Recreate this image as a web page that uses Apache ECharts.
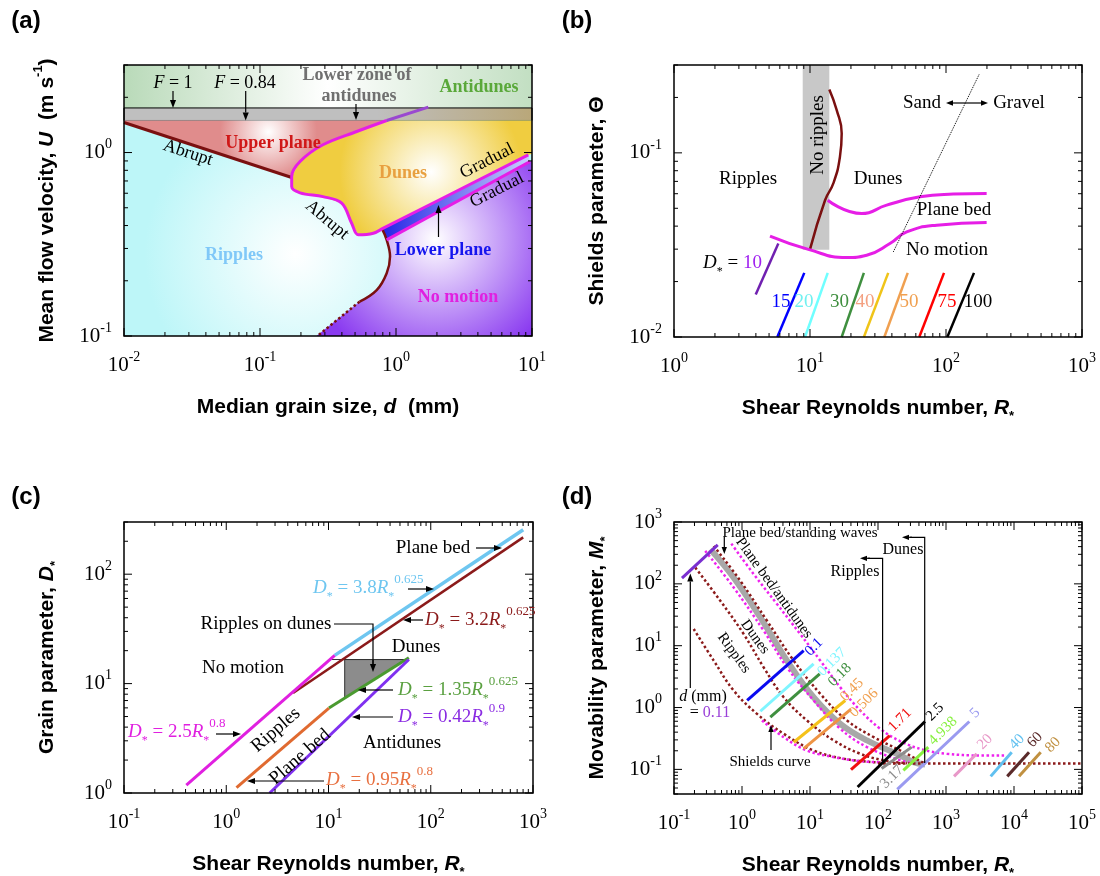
<!DOCTYPE html>
<html>
<head>
<meta charset="utf-8">
<title>Bedform diagrams</title>
<script src="https://cdn.jsdelivr.net/npm/echarts@6.0.0/dist/echarts.min.js"></script>
<style>
  html, body { margin: 0; padding: 0; background: #fff; }
  #chart { width: 1100px; height: 876px; }
</style>
</head>
<body>
<div id="chart"></div>
<script>
// axis ranges
const aX = [0.01, 10], aY = [0.1, 3];
const bX = [1, 1000], bY = [0.01, 0.3];
const cX = [0.1, 1000], cY = [1, 300];
const dX = [0.1, 100000], dY = [0.04, 1000];

// (a) d (mm) vs U (m/s)
const aAntidunes = [[0.01,1.75],[10,1.75],[10,3],[0.01,3]];
const aBand = [[0.01,1.495],[10,1.495],[10,1.75],[0.01,1.75]];
const aRipples = [[0.01,0.1],[10,0.1],[10,1.495],[0.01,1.495]];
const aUpperPlane = [[0.01,1.495],[0.854,1.495],[0.514,1.302],[0.290,1.102],[0.197,0.893],[0.171,0.740],[0.171,0.731],[0.01,1.458]];
const aDunesEdge = [[0.854,1.495],[0.514,1.302],[0.290,1.102],[0.197,0.893],[0.171,0.740],[0.171,0.652],[0.197,0.603],[0.290,0.575],[0.399,0.530],[0.472,0.412],[0.528,0.356],[0.681,0.363],[0.807,0.387],[9.39,0.971]];
const aDunesClose = [[10,0.985],[10,1.495]];
const aAntiEdge = [[1.728,1.769],[0.854,1.495]];
const aLowerPlane = [[0.785,0.387],[9.39,0.971],[9.67,0.893],[0.854,0.334]];
const aLowerEdge = [[0.854,0.334],[9.67,0.893]];
const aRippleEdge = [[0.785,0.387],[0.854,0.334],[0.904,0.271],[0.854,0.220],[0.721,0.178],[0.540,0.154]];
const aRippleDotted = [[0.540,0.154],[0.269,0.101]];
const aNoMotion = [[0.26,0.1],[0.540,0.154],[0.721,0.178],[0.854,0.220],[0.904,0.271],[0.854,0.334],[9.67,0.893],[10,0.91],[10,0.1]];
const aAbrupt = [[0.01,1.458],[0.171,0.731]];

// (b) R* vs Shields parameter
const bNoRipples = [[8.84,0.0298],[13.87,0.0298],[13.87,0.3],[8.84,0.3]];
const bRippleEdge = [[13.87,0.221],[15.72,0.1706],[17.1,0.1274],[16.6,0.0951],[14.84,0.0682],[12.9,0.0553],[10.0,0.0299]];
const bPlaneBedEdge = [[13.5,0.0553],[24.0,0.0468],[36.6,0.052],[64.4,0.0577],[113,0.0597],[199,0.0602]];
const bMotionEdge = [[5.08,0.0353],[9.72,0.0299],[18.6,0.027],[26.1,0.0278],[38.7,0.0322],[51.4,0.0372],[85.4,0.0405],[199,0.0419]];
const bSandGravel = [[41.0,0.029],[175.8,0.268]];
const bDstar = ['10','15','20','30','40','50','75','100'];
const bDLow = [[3.99,0.017],[5.75,0.01],[9.19,0.01],[17.1,0.01],[24.9,0.01],[35.2,0.01],[63.6,0.01],[102.3,0.01]];
const bDHigh = [[5.85,0.0322],[9.08,0.0223],[13.5,0.0223],[24.9,0.0223],[37.6,0.0223],[52.3,0.0223],[96.7,0.0223],[160.6,0.0223]];
const bDColors = ['#7020b0','#0000ff','#70ffff','#3f8f3f','#f0c419','#f0a050','#ff0000','#000000'];
const bLabelColors = ['#a020f0','#0000ff','#70f0f0','#3f8f3f','#f4a080','#f0a050','#ff0000','#000000'];
const bLabelX = [0, 781, 804, 839.5, 865, 909, 947, 978];

// (c) R* vs D*
const cBlue = [[11.5,18.1],[802,255]];
const cBrown = [[4.5,8.22],[802,217]];
const cMagenta = [[0.407,1.18],[11.5,18.1]];
const cOrange = [[1.26,1.12],[10.1,5.98]];
const cGreen = [[10.1,5.98],[61.1,17.2]];
const cPurple = [[2.66,1.0],[61.1,16.6]];
const cRippleDunes = [[14.4,16.6],[55.8,16.6],[14.4,7.36]];
const cTop = [[10.7,16.6],[55.8,16.6]];

// (d) R* vs M*
const dD011 = [[0.131,124],[0.440,426]];
const dPlaneAnti = [[0.697,447],[1.49,143],[3.27,47.1],[7.19,15.4],[14.2,5.73],[27.9,2.12],[54.9,0.895],[108,0.453],[213,0.285],[463,0.208],[1023,0.179],[3162,0.168],[7810,0.168]];
const dGrayBand = [[0.342,363],[0.755,126],[1.86,28.6],[4.59,5.73],[11.3,1.47],[27.9,0.546],[68.9,0.294],[213,0.168],[330,0.131],[491,0.120]];
const dBandBrown = [[0.384,410],[0.944,112],[2.33,25.3],[5.76,5.73],[14.2,1.66],[35.0,0.617],[86.5,0.332],[213,0.202],[491,0.124]];
const dBandMagenta = [[0.288,341],[0.755,87.1],[2.08,17.5],[4.59,4.47],[11.3,1.30],[27.9,0.453],[68.9,0.229],[213,0.140],[330,0.124]];
const dDunes = [[0.206,183],[0.480,53.2],[1.06,15.4],[2.08,4.47],[4.10,1.47],[9.03,0.617],[22.3,0.294],[54.9,0.179],[121,0.140],[267,0.126]];
const dRipples = [[0.195,18.6],[0.384,5.73],[0.755,1.88],[1.66,0.791],[4.10,0.377],[11.3,0.202],[31.3,0.149],[86.5,0.131],[213,0.126]];
const dShields = [[1.97,0.617],[4.10,0.332],[9.03,0.202],[22.3,0.158],[54.9,0.136],[121,0.130]];
const dFlat = [[100,0.124],[100000,0.124]];
const dSizes = ['0.1','0.137','0.18','0.45','0.506','1.71','2.5','3.17','4.938','5','20','40','60','80'];
const dLo = [[1.19,1.30],[1.86,0.871],[2.61,0.698],[5.76,0.275],[8.07,0.216],[40.1,0.0989],[50.2,0.0519],[113,0.103],[236,0.0964],[192,0.0475],[1312,0.0771],[4540,0.0771],[7960,0.0771],[11860,0.0771]];
const dHi = [[8.07,8.30],[11.3,5.07],[13.9,3.50],[33.0,1.30],[40.1,0.940],[149,0.353],[491,0.594],[313,0.229],[549,0.229],[2203,0.594],[2825,0.179],[9250,0.190],[16630,0.190],[24710,0.190]];
const dColors = ['#0a0af0','#7ff5ff','#3f8f3f','#f5c21a','#ee9444','#f01010','#000000','#8c8c8c','#88f040','#9a9af0','#e898c8','#60c0f0','#5a2a2a','#c09040'];
const dLabelColors = ['#0a0af0','#7ff5ff','#3f8f3f','#f0a050','#f0a050','#f01010','#000000','#8c8c8c','#88f040','#9a9af0','#e898c8','#60c0f0','#5a2a2a','#c09040'];
const dLabelPos = [[814,647],[832,662],[840,675],[852,690],[864,703],[900,720],[935,712],[892,777],[943,731],[975,713],[985,742],[1017,742],[1035,740],[1053,745]];

const SERIF = '"Liberation Serif","Times New Roman",serif';
const SANS = '"Liberation Sans",Arial,sans-serif';
const deg = Math.PI / 180;
const G = echarts.graphic;

const chart = echarts.init(document.getElementById('chart'));

function powLabel(v) {
  const l = Math.log10(v), e = Math.round(l);
  if (Math.abs(l - e) > 1e-6) return '';
  return '{b|10}{s|' + e + '}';
}
const labelRich = {
  b: {fontFamily: SERIF, fontSize: 21, color: '#000', lineHeight: 30},
  s: {fontFamily: SERIF, fontSize: 14, color: '#000', verticalAlign: 'top', lineHeight: 14}
};
const titleRich = {
  t: {fontFamily: SANS, fontWeight: 'bold', fontSize: 21, color: '#000', lineHeight: 30},
  i: {fontFamily: SANS, fontWeight: 'bold', fontStyle: 'italic', fontSize: 21, color: '#000', lineHeight: 30},
  sp: {fontFamily: SANS, fontWeight: 'bold', fontSize: 13, color: '#000', verticalAlign: 'top', lineHeight: 14},
  sb: {fontFamily: SANS, fontWeight: 'bold', fontSize: 13, color: '#000', verticalAlign: 'bottom', lineHeight: 14}
};

function axis(gi, r, name, isY) {
  return {
    gridIndex: gi, type: 'log', logBase: 10, min: r[0], max: r[1],
    axisLine: {show: false}, axisTick: {show: false}, splitLine: {show: false},
    axisLabel: {formatter: powLabel, rich: labelRich, margin: isY ? 12 : 14, showMinLabel: true, showMaxLabel: true},
    name: name, nameLocation: 'middle', nameGap: isY ? 62 : 56, nameMoveOverlap: false,
    nameTextStyle: {rich: titleRich}
  };
}

function logTicks(r) {
  const out = [];
  const k0 = Math.floor(Math.log10(r[0]) - 1e-9), k1 = Math.ceil(Math.log10(r[1]));
  for (let k = k0; k <= k1; k++) {
    for (let m = 1; m <= 9; m++) {
      const v = m * Math.pow(10, k);
      if (v >= r[0] * 0.999 && v <= r[1] * 1.001) out.push([v, m === 1]);
    }
  }
  return out;
}

// box + major/minor ticks on all four sides
function frame(gi, xr, yr) {
  return {
    type: 'custom', xAxisIndex: gi, yAxisIndex: gi, silent: true, z: 20,
    data: [[xr[0], yr[0]]],
    renderItem: function (params, api) {
      const cs = params.coordSys;
      const ch = [];
      const st = {stroke: '#000', lineWidth: 1};
      const seg = (x1, y1, x2, y2) => ch.push({type: 'line', shape: {x1, y1, x2, y2}, style: st});
      logTicks(xr).forEach(([v, maj]) => {
        const x = api.coord([v, yr[0]])[0], L = maj ? 8 : 4;
        seg(x, cs.y + cs.height, x, cs.y + cs.height - L);
        seg(x, cs.y, x, cs.y + L);
      });
      logTicks(yr).forEach(([v, maj]) => {
        const y = api.coord([xr[0], v])[1], L = maj ? 8 : 4;
        seg(cs.x, y, cs.x + L, y);
        seg(cs.x + cs.width, y, cs.x + cs.width - L, y);
      });
      ch.push({type: 'rect', shape: {x: cs.x, y: cs.y, width: cs.width, height: cs.height},
        style: {fill: null, stroke: '#000', lineWidth: 1.5}});
      return {type: 'group', children: ch};
    }
  };
}

// filled areas
function regions(gi, list) {
  return {
    type: 'custom', xAxisIndex: gi, yAxisIndex: gi, silent: true, z: 1,
    data: list.map(r => r.pts[0]),
    renderItem: function (params, api) {
      const r = list[params.dataIndex];
      return {type: 'polygon', shape: {points: r.pts.map(p => api.coord(p))},
        style: {fill: r.fill, stroke: r.stroke || null, lineWidth: r.lw || 0}};
    }
  };
}

function line(gi, data, color, width, dotted, smooth) {
  return {
    type: 'line', xAxisIndex: gi, yAxisIndex: gi, data: data, symbol: 'none', silent: true, z: 3,
    smooth: smooth || false,
    lineStyle: {color: color, width: width, type: dotted ? 'dotted' : 'solid'}
  };
}

function richStyle(size, color, pc) {
  const sub = Math.round(size * 0.62), sup = Math.round(size * 0.66);
  return {
    t: {fontFamily: SERIF, fontSize: size, fill: color, lineHeight: size + 10},
    i: {fontFamily: SERIF, fontSize: size, fill: color, fontStyle: 'italic', lineHeight: size + 10},
    k: {fontFamily: SERIF, fontSize: size, fill: '#000', lineHeight: size + 10},
    ki: {fontFamily: SERIF, fontSize: size, fill: '#000', fontStyle: 'italic', lineHeight: size + 10},
    p: {fontFamily: SERIF, fontSize: size, fill: pc || color, lineHeight: size + 10},
    sb: {fontFamily: SERIF, fontSize: sub, fill: color, verticalAlign: 'bottom', lineHeight: sub + 2},
    ksb: {fontFamily: SERIF, fontSize: sub, fill: '#000', verticalAlign: 'bottom', lineHeight: sub + 2},
    sp: {fontFamily: SERIF, fontSize: sup, fill: color, verticalAlign: 'top', lineHeight: sup + 1}
  };
}
function txt(x, y, text, size, color, o) {
  o = o || {};
  return {
    type: 'text', x: x, y: y, rotation: (o.rot || 0) * deg, z: 100,
    style: {text: text, fontFamily: o.sans ? SANS : SERIF, fontSize: size, fill: color,
      fontWeight: o.bold ? 'bold' : 'normal', align: o.align || 'center', verticalAlign: 'middle',
      rich: richStyle(size, color, o.pc)}
  };
}
function arrow(x1, y1, x2, y2, color, h) {
  color = color || '#000'; h = h || 8;
  const a = Math.atan2(y2 - y1, x2 - x1), w = h * 0.38;
  const bx = x2 - h * Math.cos(a), by = y2 - h * Math.sin(a);
  return {type: 'group', z: 100, children: [
    {type: 'line', z: 100, shape: {x1, y1, x2: bx, y2: by}, style: {stroke: color, lineWidth: 1.2}},
    {type: 'polygon', z: 100, shape: {points: [[x2, y2], [bx + w * Math.sin(a), by - w * Math.cos(a)], [bx - w * Math.sin(a), by + w * Math.cos(a)]]},
      style: {fill: color}}
  ]};
}
function poly(points) {
  return {type: 'polyline', z: 100, shape: {points: points}, style: {stroke: '#000', lineWidth: 1.2, fill: null}};
}

const lin = (stops) => new G.LinearGradient(0, 0, 1, 0, stops.map(s => ({offset: s[0], color: s[1]})));
const rad = (x, y, r, c0, c1) => new G.RadialGradient(x, y, r, [{offset: 0, color: c0}, {offset: 1, color: c1}]);

const series = [
  regions(0, [
    {pts: aAntidunes, fill: lin([[0, '#b9dab9'], [0.5, '#ffffff'], [1, '#c2dfc2']])},
    {pts: aBand, fill: lin([[0, '#bfbfbf'], [0.62, '#bfbfbf'], [1, '#b9a779']]), stroke: '#000', lw: 1},
    {pts: aRipples, fill: rad(0.42, 0.62, 0.7, '#ffffff', '#bdf6f8')},
    {pts: aUpperPlane, fill: rad(0.55, 0.2, 0.85, '#ffffff', '#e08c8c')},
    {pts: aDunesEdge.concat(aDunesClose), fill: rad(0.58, 0.45, 0.8, '#ffffff', '#f0cd40')},
    {pts: aNoMotion, fill: rad(0.55, 0.45, 0.75, '#ffffff', '#8a3af0')},
    {pts: aLowerPlane, fill: lin([[0, '#2424e6'], [1, '#c8d0ff']])}
  ]),
  line(0, aAbrupt, '#7a1010', 3),
  line(0, aRippleEdge, '#7a1010', 2.5, false, 0.4),
  line(0, aRippleDotted, '#7a1010', 2.5, true),
  line(0, aDunesEdge, '#e61ee6', 3, false, 0.35),
  line(0, aAntiEdge, '#9a48d0', 3),
  line(0, aLowerEdge, '#e61ee6', 3),
  frame(0, aX, aY),

  regions(1, [{pts: bNoRipples, fill: '#c8c8c8'}]),
  line(1, bRippleEdge, '#7a1010', 2.5, false, 0.5),
  line(1, bPlaneBedEdge, '#e61ee6', 3, false, 0.5),
  line(1, bMotionEdge, '#e61ee6', 3, false, 0.5),
  line(1, bSandGravel, '#000', 1, true),
  frame(1, bX, bY),

  regions(2, [{pts: cRippleDunes, fill: '#8c8c8c', stroke: '#333', lw: 1}]),
  line(2, cTop, '#333', 1),
  line(2, cBlue, '#6ec6f0', 3.5),
  line(2, cBrown, '#8b1a1a', 2.5),
  line(2, cMagenta, '#e020e0', 3),
  line(2, cOrange, '#e06a30', 3),
  line(2, cGreen, '#4a9a30', 3),
  line(2, cPurple, '#8030f0', 3),
  frame(2, cX, cY),

  line(3, dGrayBand, '#a8a8a8', 6, false, 0.4),
  line(3, dBandMagenta, '#ee22ee', 2.5, true, 0.4),
  line(3, dBandBrown, '#8b1a1a', 2.5, true, 0.4),
  line(3, dPlaneAnti, '#ee22ee', 2.5, true, 0.4),
  line(3, dDunes, '#8b1a1a', 2.5, true, 0.4),
  line(3, dRipples, '#8b1a1a', 2.5, true, 0.4),
  line(3, dShields, '#ee22ee', 2.5, true, 0.4),
  line(3, dFlat, '#8b1a1a', 2.5, true),
  line(3, dD011, '#7a2fd0', 3),
  frame(3, dX, dY)
];
bDLow.forEach((p, i) => series.push(line(1, [p, bDHigh[i]], bDColors[i], 2.5)));
dLo.forEach((p, i) => series.push(line(3, [p, dHi[i]], dColors[i], 3)));

const graphics = [
  txt(26, 21, '(a)', 24, '#000', {sans: true, bold: true}),
  txt(577, 21, '(b)', 24, '#000', {sans: true, bold: true}),
  txt(26, 497, '(c)', 24, '#000', {sans: true, bold: true}),
  txt(577, 497, '(d)', 24, '#000', {sans: true, bold: true}),

  // (a)
  txt(173, 83, '{ki|F}{k| = 1}', 18, '#000'),
  txt(245, 83, '{ki|F}{k| = 0.84}', 18, '#000'),
  arrow(173, 91, 173, 108), arrow(245.7, 91, 245.7, 120.5),
  txt(357, 75, 'Lower zone of', 18, '#707070', {bold: true}),
  txt(359, 96, 'antidunes', 18, '#707070', {bold: true}),
  arrow(356, 104, 356, 120),
  txt(479, 87, 'Antidunes', 18, '#5aa83a', {bold: true}),
  txt(273, 143, 'Upper plane', 18, '#d01818', {bold: true}),
  txt(188, 153, 'Abrupt', 18, '#000', {rot: -18}),
  txt(403, 173, 'Dunes', 18, '#e8a040', {bold: true}),
  txt(327, 220, 'Abrupt', 18, '#000', {rot: -40}),
  txt(487, 161, 'Gradual', 18, '#000', {rot: 27}),
  txt(497, 190, 'Gradual', 18, '#000', {rot: 27}),
  txt(443, 250, 'Lower plane', 18, '#1515ee', {bold: true}),
  arrow(438.5, 237, 438.5, 205),
  txt(234, 255, 'Ripples', 18, '#80c8f8', {bold: true}),
  txt(458, 297, 'No motion', 18, '#e020e0', {bold: true}),

  // (b)
  txt(818, 135, 'No ripples', 19, '#000', {rot: 90}),
  txt(922, 103, 'Sand', 19, '#000'),
  txt(1019, 103, 'Gravel', 19, '#000'),
  arrow(967, 103, 946, 103, '#000', 7), arrow(967, 103, 988, 103, '#000', 7),
  txt(748, 179, 'Ripples', 19, '#000'),
  txt(878, 179, 'Dunes', 19, '#000'),
  txt(954, 210, 'Plane bed', 19, '#000'),
  txt(947, 250, 'No motion', 19, '#000'),
  txt(762, 263, '{ki|D}{ksb|*}{k| = }{p|10}', 19, '#000', {align: 'right', pc: bLabelColors[0]}),

  // (c)
  txt(433, 548, 'Plane bed', 19, '#000'),
  arrow(476, 548, 502, 548),
  txt(313, 588, '{i|D}{sb|*}{t| = 3.8}{i|R}{sb|*}{sp|0.625}', 19, '#6ec6f0', {align: 'left'}),
  arrow(408, 589, 434, 589),
  txt(425, 620, '{i|D}{sb|*}{t| = 3.2}{i|R}{sb|*}{sp|0.625}', 19, '#8b1a1a', {align: 'left'}),
  arrow(423, 620, 403, 620),
  txt(266, 624, 'Ripples on dunes', 19, '#000'),
  poly([[334, 624], [373, 624], [373, 664]]),
  arrow(373, 660, 373, 672),
  txt(416, 647, 'Dunes', 19, '#000'),
  txt(243, 668, 'No motion', 19, '#000'),
  txt(398, 690, '{i|D}{sb|*}{t| = 1.35}{i|R}{sb|*}{sp|0.625}', 19, '#5aa040', {align: 'left'}),
  arrow(393, 690, 358, 690),
  txt(398, 717, '{i|D}{sb|*}{t| = 0.42}{i|R}{sb|*}{sp|0.9}', 19, '#8a2be2', {align: 'left'}),
  arrow(393, 717, 352, 717),
  txt(128, 732, '{i|D}{sb|*}{t| = 2.5}{i|R}{sb|*}{sp|0.8}', 19, '#e020e0', {align: 'left'}),
  arrow(216, 734, 241, 734),
  txt(276, 730, 'Ripples', 19, '#000', {rot: 41}),
  txt(300, 757, 'Plane bed', 19, '#000', {rot: 41}),
  txt(402, 743, 'Antidunes', 19, '#000'),
  txt(326, 780, '{i|D}{sb|*}{t| = 0.95}{i|R}{sb|*}{sp|0.8}', 19, '#e87040', {align: 'left'}),
  arrow(324, 781, 247, 781),

  // (d)
  txt(800, 533, 'Plane bed/standing waves', 15, '#000'),
  arrow(724.3, 537, 724.3, 554, '#000', 7),
  txt(774, 588, 'Plane bed/antidunes', 15, '#000', {rot: -54}),
  txt(755, 637, 'Dunes', 15, '#000', {rot: -54}),
  txt(734, 653, 'Ripples', 15, '#000', {rot: -54}),
  txt(855, 572, 'Ripples', 16, '#000'),
  txt(903, 550, 'Dunes', 16, '#000'),
  poly([[882.6, 763], [882.6, 558.3], [868, 558.3]]),
  arrow(870, 558.3, 860, 558.3, '#000', 7),
  poly([[924.7, 763], [924.7, 537.3], [910, 537.3]]),
  arrow(912, 537.3, 902, 537.3, '#000', 7),
  txt(703, 697, '{ki|d}{k| (mm)}', 16, '#000'),
  txt(710, 713, '{k|= }{p|0.11}', 16, '#000', {pc: '#9a40d8'}),
  arrow(690.3, 688, 690.3, 573.5, '#000', 8),
  txt(770, 762, 'Shields curve', 15, '#000'),
  arrow(771, 750, 771, 725, '#000', 7)
];
bDstar.forEach((s, i) => { if (i > 0) graphics.push(txt(bLabelX[i], 302, s, 19, bLabelColors[i])); });
dSizes.forEach((s, i) => graphics.push(txt(dLabelPos[i][0], dLabelPos[i][1], s, 15, dLabelColors[i], {rot: 45})));

chart.setOption({
  animation: false,
  backgroundColor: '#fff',
  grid: [
    {left: 124, top: 65, width: 408, height: 271, outerBoundsMode: 'none'},
    {left: 674, top: 65, width: 408, height: 272, outerBoundsMode: 'none'},
    {left: 124, top: 522, width: 409, height: 271, outerBoundsMode: 'none'},
    {left: 674, top: 522, width: 408, height: 272, outerBoundsMode: 'none'}
  ],
  xAxis: [
    axis(0, aX, '{t|Median grain size, }{i|d}{t|  (mm)}', false),
    axis(1, bX, '{t|Shear Reynolds number, }{i|R}{sb|*}', false),
    axis(2, cX, '{t|Shear Reynolds number, }{i|R}{sb|*}', false),
    axis(3, dX, '{t|Shear Reynolds number, }{i|R}{sb|*}', false)
  ],
  yAxis: [
    axis(0, aY, '{t|Mean flow velocity, }{i|U}{t|  (m s}{sp|-1}{t|)}', true),
    axis(1, bY, '{t|Shields parameter, \u0398}', true),
    axis(2, cY, '{t|Grain parameter, }{i|D}{sb|*}', true),
    axis(3, dY, '{t|Movability parameter, }{i|M}{sb|*}', true)
  ],
  series: series,
  graphic: graphics
});
</script>
</body>
</html>
